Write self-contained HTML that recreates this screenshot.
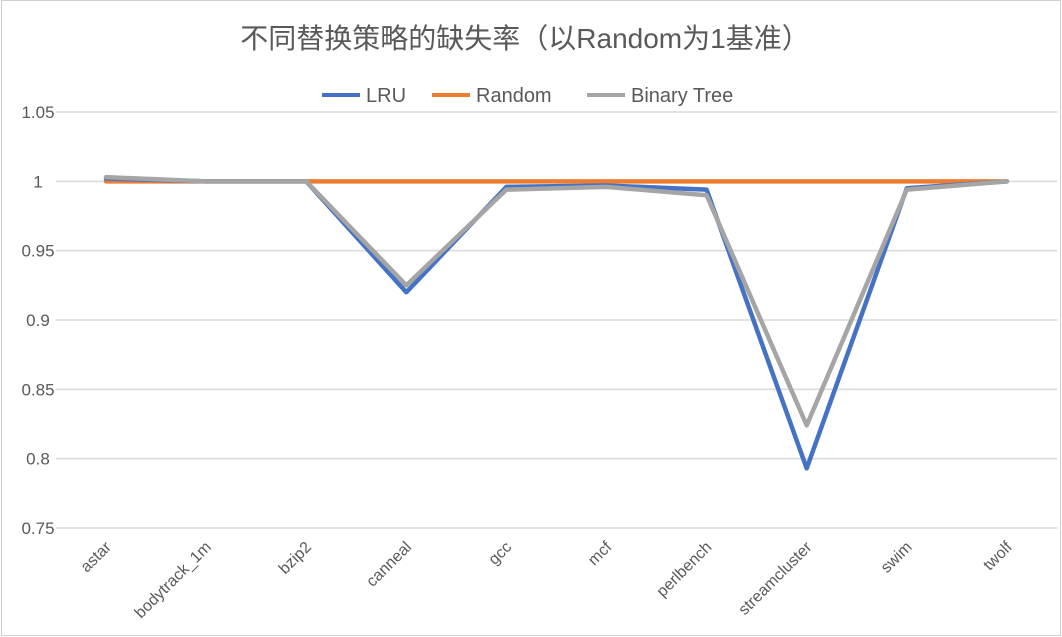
<!DOCTYPE html>
<html><head><meta charset="utf-8"><style>
body{margin:0;background:#fff;}
svg{display:block;font-family:"Liberation Sans","Noto Sans CJK SC",sans-serif;}
</style></head><body>
<svg width="1062" height="637" viewBox="0 0 1062 637" xmlns="http://www.w3.org/2000/svg">
<rect x="1.5" y="0.5" width="1059" height="635" fill="#fff" stroke="#d0d0d0"/>
<text x="525" y="48" font-size="28" fill="#595959" text-anchor="middle">不同替换策略的缺失率（以Random为1基准）</text>
<g>
<line x1="322" y1="95" x2="360" y2="95" stroke="#4472c4" stroke-width="4"/>
<text x="366" y="102" font-size="20" fill="#595959">LRU</text>
<line x1="432" y1="95" x2="470" y2="95" stroke="#ed7d31" stroke-width="4"/>
<text x="476" y="102" font-size="20" fill="#595959">Random</text>
<line x1="587" y1="95" x2="625" y2="95" stroke="#a5a5a5" stroke-width="4"/>
<text x="631" y="102" font-size="20" fill="#595959">Binary Tree</text>
</g>
<g id="grid"></g><g id="ylab"></g><g id="xlab"></g><g id="series"></g>
</svg>
<script>
const categories=["astar","bodytrack_1m","bzip2","canneal","gcc","mcf","perlbench","streamcluster","swim","twolf"];
const lruValues=[1.002,1.0,1.0,0.920,0.996,0.997,0.994,0.793,0.995,1.0];
const randomValues=[1,1,1,1,1,1,1,1,1,1];
const binaryTreeValues=[1.003,1.0,1.0,0.925,0.994,0.996,0.990,0.824,0.994,1.0];
const yTicks=[0.75,0.8,0.85,0.9,0.95,1,1.05];
const NS="http://www.w3.org/2000/svg";
const y=v=>528-(v-0.75)/0.3*416;
const x=i=>106+i*100.1;
function mk(t,a,p){const e=document.createElementNS(NS,t);for(const k in a)e.setAttribute(k,a[k]);document.getElementById(p).appendChild(e);return e;}
yTicks.forEach(t=>{
 const g=mk('line',{x1:56,x2:1057,y1:y(t),y2:y(t),stroke:'#d9d9d9','stroke-width':1.5},'grid');
 
 
 const l=mk('text',{x:38,y:y(t)+6,'font-size':17,fill:'#595959','text-anchor':'middle'},'ylab');
 l.textContent=(t===1?'1':String(t));
 
 
});
categories.forEach((c,i)=>{
 const l=mk('text',{x:x(i)+6,y:548,'font-size':16,fill:'#595959','text-anchor':'end',transform:`rotate(-45 ${x(i)+6} 548)`},'xlab');
 l.textContent=c;
 
 
});
[[randomValues,'#ed7d31','random-line'],[lruValues,'#4472c4','lru-line'],[binaryTreeValues,'#a5a5a5','binary-tree-line']].forEach(([vals,col,name])=>{
 const p=mk('polyline',{points:vals.map((v,i)=>x(i)+','+y(v)).join(' '),fill:'none',stroke:col,'stroke-width':4.5,'stroke-linejoin':'round','stroke-linecap':'round'},'series');
 
 
});
</script>
</body></html>
